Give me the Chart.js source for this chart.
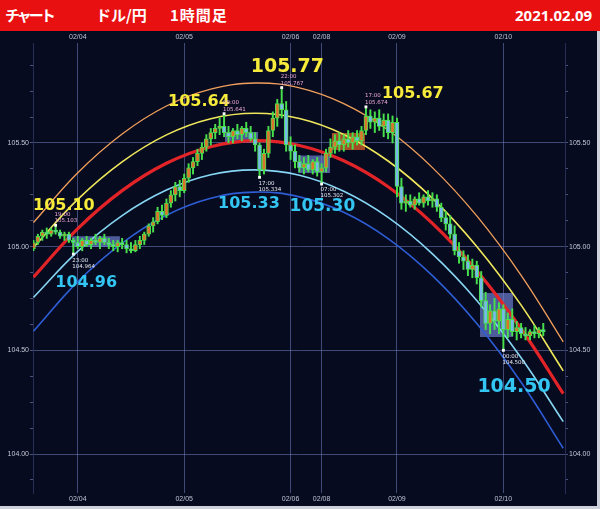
<!DOCTYPE html>
<html><head><meta charset="utf-8">
<script src="https://cdn.jsdelivr.net/npm/chart.js@4.4.1/dist/chart.umd.min.js"></script>
<style>
html,body{margin:0;padding:0;background:#070b1f;width:600px;height:509px;overflow:hidden}
#hdr{position:absolute;left:0;top:0;width:600px;height:31px;background:#e81010;color:#fff;font-family:"Noto Sans CJK JP";font-weight:bold}
#hdr span{position:absolute;top:5px;font-size:15px;line-height:20px;white-space:nowrap}
#wrap{position:absolute;left:0;top:31px;width:600px;height:478px}
#edgeR{position:absolute;right:0;top:31px;width:3px;height:478px;background:#cdd1da}
#edgeB{position:absolute;left:0;bottom:0;width:600px;height:3px;background:#cdd1da}
</style></head>
<body>
<div id="hdr">
  <span style="left:5px;letter-spacing:-3px">チャート</span>
  <span style="left:96px">ドル/円</span>
  <span style="left:170px;letter-spacing:1px">1時間足</span>
  <span style="left:515px;font-family:'Noto Sans'">2021.02.09</span>
</div>
<div id="wrap"><canvas id="c" width="600" height="478"></canvas></div>
<div id="edgeR"></div><div id="edgeB"></div>
<script>
// ---- data ----
const DAY_TICKS = [10, 34, 58, 65, 82, 106];
const DAY_LABELS = ['02/04','02/05','02/06','02/08','02/09','02/10'];
const Y_MAJOR = [104.0, 104.5, 105.0, 105.5];
const Y_LABELS = ['104.00','104.50','105.00','105.50'];

const OPEN = [
104.99,105.02,105.05,105.07,105.06,105.08,105.07,105.05,105.06,105.03,
105.02,105.00,105.03,105.01,105.03,105.02,105.04,105.02,105.01,105.00,
105.02,105.01,104.99,104.98,105.01,105.03,105.06,105.10,105.12,105.17,
105.15,105.21,105.25,105.29,105.27,105.33,105.38,105.41,105.45,105.48,
105.52,105.55,105.57,105.58,105.55,105.53,105.56,105.54,105.57,105.55,
105.52,105.49,105.37,105.45,105.56,105.62,105.69,105.66,105.49,105.46,
105.41,105.38,105.40,105.37,105.41,105.36,105.38,105.45,105.48,105.51,
105.49,105.52,105.50,105.53,105.51,105.56,105.63,105.60,105.62,105.58,
105.61,105.55,105.60,105.29,105.21,105.22,105.20,105.23,105.21,105.24,
105.22,105.23,105.19,105.14,105.11,105.06,104.98,104.95,104.93,104.89,
104.91,104.85,104.74,104.63,104.69,104.64,104.70,104.60,104.65,104.59,
104.61,104.58,104.57,104.59,104.58,104.60];
const HIGH = [
105.03,105.06,105.08,105.09,105.09,105.103,105.08,105.07,105.07,105.04,
105.05,105.04,105.05,105.04,105.06,105.05,105.06,105.04,105.03,105.03,
105.04,105.03,105.02,105.03,105.05,105.07,105.11,105.14,105.19,105.20,
105.23,105.27,105.31,105.32,105.35,105.40,105.43,105.47,105.50,105.54,
105.57,105.59,105.62,105.641,105.58,105.57,105.59,105.58,105.60,105.58,
105.55,105.50,105.47,105.58,105.65,105.71,105.767,105.70,105.53,105.49,
105.44,105.43,105.44,105.42,105.43,105.40,105.47,105.52,105.54,105.55,
105.54,105.56,105.55,105.56,105.58,105.674,105.66,105.65,105.66,105.64,
105.64,105.63,105.62,105.33,105.25,105.25,105.24,105.26,105.25,105.27,
105.26,105.25,105.21,105.17,105.15,105.10,105.02,104.98,104.96,104.94,
104.93,104.88,104.78,104.72,104.75,104.73,104.72,104.68,104.70,104.64,
104.63,104.61,104.60,104.62,104.61,104.63];
const LOW = [
104.98,105.01,105.03,105.04,105.05,105.06,105.04,105.03,105.02,104.964,
104.99,104.98,105.00,104.99,105.01,104.99,105.01,104.99,104.98,104.975,
104.99,104.97,104.97,104.975,104.99,105.01,105.05,105.07,105.11,105.13,
105.14,105.19,105.22,105.24,105.26,105.31,105.35,105.39,105.42,105.46,
105.49,105.52,105.54,105.53,105.50,105.50,105.52,105.51,105.53,105.51,
105.46,105.334,105.35,105.43,105.53,105.58,105.62,105.46,105.42,105.38,
105.36,105.35,105.36,105.35,105.34,105.302,105.36,105.43,105.45,105.46,
105.46,105.48,105.47,105.49,105.49,105.54,105.57,105.55,105.56,105.53,
105.52,105.50,105.24,105.18,105.17,105.19,105.18,105.20,105.19,105.20,
105.19,105.17,105.12,105.08,105.04,104.96,104.92,104.89,104.86,104.85,
104.82,104.71,104.60,104.58,104.60,104.58,104.500,104.56,104.57,104.55,
104.56,104.55,104.55,104.56,104.56,104.57];
const CLOSE = [
105.02,105.05,105.07,105.06,105.08,105.07,105.05,105.06,105.03,105.02,
105.00,105.03,105.01,105.03,105.02,105.04,105.02,105.01,105.00,105.02,
105.01,104.99,104.98,105.01,105.03,105.06,105.10,105.12,105.17,105.15,
105.21,105.25,105.29,105.27,105.33,105.38,105.41,105.45,105.48,105.52,
105.55,105.57,105.58,105.55,105.53,105.56,105.54,105.57,105.55,105.52,
105.49,105.37,105.45,105.56,105.62,105.69,105.66,105.49,105.46,105.41,
105.38,105.40,105.37,105.41,105.36,105.38,105.45,105.48,105.51,105.49,
105.52,105.50,105.53,105.51,105.56,105.63,105.60,105.62,105.58,105.61,
105.55,105.60,105.29,105.21,105.22,105.20,105.23,105.21,105.24,105.22,
105.23,105.19,105.14,105.11,105.06,104.98,104.95,104.93,104.89,104.91,
104.85,104.74,104.63,104.69,104.64,104.70,104.60,104.65,104.59,104.61,
104.58,104.57,104.59,104.58,104.60,104.59];

// channel curves, read at sample bar positions
const CURVE_X      = [0, 10, 20, 30, 40, 50, 60, 70, 80, 90, 100, 110, 119.5];
const CURVE_ORANGE = [105.116,105.356,105.543,105.678,105.759,105.789,105.766,105.690,105.562,105.381,105.148,104.862,104.541];
const CURVE_YELLOW = [104.996,105.228,105.409,105.539,105.617,105.643,105.618,105.541,105.413,105.233,105.001,104.718,104.401];
const CURVE_RED    = [104.853,105.087,105.270,105.402,105.482,105.511,105.488,105.414,105.289,105.112,104.884,104.604,104.291];
const CURVE_CYAN   = [104.755,104.977,105.150,105.273,105.347,105.370,105.344,105.267,105.141,104.965,104.740,104.464,104.156];
const CURVE_BLUE   = [104.592,104.831,105.017,105.151,105.233,105.263,105.240,105.166,105.039,104.860,104.629,104.346,104.028];

// range boxes
const BOX_X0  = [8.7, 43.2, 59.7, 67.3, 100.7];
const BOX_X1  = [19.5, 50.7, 66.9, 74.8, 108.2];
const BOX_TOP = [105.050, 105.553, 105.440, 105.548, 104.776];
const BOX_BOT = [104.998, 105.500, 105.355, 105.466, 104.564];
const BOX_UP  = [false, false, false, true, false];

// marked extremes
const EXT_IDX  = [5, 9, 43, 56, 51, 65, 75, 106];
const EXT_VAL  = [105.103, 104.964, 105.641, 105.767, 105.334, 105.302, 105.674, 104.500];
const EXT_TIME = ['19:00','23:00','09:00','22:00','17:00','07:00','17:00','00:00'];
const EXT_TEXT = ['105.103','104.964','105.641','105.767','105.334','105.302','105.674','104.500'];
const EXT_HIGH = [true, false, true, true, false, false, true, false];
const BIG_TEXT = ['105.10','104.96','105.64','105.77','105.33','105.30','105.67','104.50'];

// ---- styling / layout (not data) ----
const BIG_STYLE = [
  {dx:-22.6, dy:-19, size:16},
  {dx:-18,   dy:29,  size:16},
  {dx:-56,   dy:-12, size:16},
  {dx:-31,   dy:-21, size:19},
  {dx:-41.5, dy:26,  size:16},
  {dx:-32,   dy:23,  size:17},
  {dx:16,    dy:-13, size:16},
  {dx:-26,   dy:37,  size:19}
];
const YELLOW_TXT = '#f6ea3a', CYAN_TXT = '#33c6f2';
const GRID = 'rgba(112,128,190,0.55)';
const GREEN = '#47e04c';

const idx = OPEN.map((_, i) => i);
const isMajor = v => Math.abs(v * 2 - Math.round(v * 2)) < 1e-6;

function curve(vals, color, width, order) {
  return {type:'line', data: CURVE_X.map((x, i) => ({x, y: vals[i]})), borderColor: color,
    borderWidth: width, pointRadius: 0, tension: 0.4, fill: false, order};
}

const datasets = [];
BOX_X0.forEach((x0, k) => {
  datasets.push({type:'line', data:[{x:x0, y:BOX_TOP[k]}, {x:BOX_X1[k], y:BOX_TOP[k]}],
    borderWidth: 0, pointRadius: 0, fill: {value: BOX_BOT[k]},
    backgroundColor: BOX_UP[k] ? 'rgba(204,92,40,0.8)' : 'rgba(112,130,214,0.68)', order: 10});
});
datasets.push(curve(CURVE_ORANGE, '#f2a05c', 1.3, 6));
datasets.push(curve(CURVE_YELLOW, '#f0e85c', 1.6, 6));
datasets.push(curve(CURVE_RED, '#e22428', 3.2, 6));
datasets.push(curve(CURVE_CYAN, '#86d6f4', 1.6, 6));
datasets.push(curve(CURVE_BLUE, '#2e5ed6', 1.6, 6));
datasets.push({type:'bar', data: idx.map(i => ({x:i, y:[LOW[i], HIGH[i]]})), backgroundColor: GREEN,
  barThickness: 1.3, grouped: false, order: 3});
datasets.push({type:'bar', data: idx.map(i => ({x:i, y:[OPEN[i], CLOSE[i]]})),
  backgroundColor: idx.map(i => CLOSE[i] >= OPEN[i] ? '#dc742e' : '#78b8ea'),
  borderColor: GREEN, borderWidth: 1, borderSkipped: false, barThickness: 4, grouped: false, order: 2});
datasets.push({type:'scatter', data: EXT_IDX.map((x, k) => ({x, y: EXT_VAL[k]})), pointStyle:'rect',
  pointRadius: 2, backgroundColor:'#ffffff', borderWidth: 0, order: 1});

const tickFont = {family:'Liberation Sans', size:7};
const xCommon = {
  type:'linear', min:-0.1, max:119.9, offset:false,
  afterBuildTicks: s => { s.ticks = DAY_TICKS.map(v => ({value:v})); },
  ticks: {callback: v => { const k = DAY_TICKS.indexOf(v); return k >= 0 ? DAY_LABELS[k] : ''; },
    color:'#bfc3d3', font: tickFont, padding: 2, maxRotation: 0, autoSkip: false},
  border: {display: false}
};
const yCommon = {
  type:'linear', min:103.812, max:105.982,
  afterBuildTicks: s => { const t = []; for (let k = 0; k <= 16; k++) t.push({value: 103.875 + k * 0.125}); s.ticks = t; },
  ticks: {callback: v => { const k = Y_MAJOR.findIndex(m => Math.abs(m - v) < 1e-6); return k >= 0 ? Y_LABELS[k] : ''; },
    color:'#c3c7d6', font: tickFont, padding: 1, autoSkip: false},
  border: {display: true, color:'rgba(70,82,140,0.5)'}
};

const annot = {
  id:'annot',
  afterDatasetsDraw(chart) {
    const {ctx} = chart, x = chart.scales.x, y = chart.scales.y;
    ctx.save();
    ctx.textAlign = 'left'; ctx.textBaseline = 'middle';
    EXT_IDX.forEach((ix, k) => {
      const px = x.getPixelForValue(ix), py = y.getPixelForValue(EXT_VAL[k]);
      const b = BIG_STYLE[k];
      ctx.font = 'bold ' + b.size + 'px "DejaVu Sans"';
      ctx.fillStyle = EXT_HIGH[k] ? YELLOW_TXT : CYAN_TXT;
      ctx.fillText(BIG_TEXT[k], px + b.dx, py + b.dy);
    });
    EXT_IDX.forEach((ix, k) => {
      const px = x.getPixelForValue(ix), py = y.getPixelForValue(EXT_VAL[k]);
      const hi = EXT_HIGH[k];
      ctx.font = '5.5px "DejaVu Sans"';
      ctx.fillStyle = hi ? '#eeaad6' : '#e6e8f0';
      ctx.fillText(EXT_TIME[k], px - 1, py + (hi ? -11 : 6));
      ctx.fillText(EXT_TEXT[k], px - 1, py + (hi ? -4.5 : 12));
    });
    ctx.restore();
  }
};

new Chart(document.getElementById('c'), {
  type:'bar',
  data:{datasets},
  options:{
    responsive:false, animation:false, devicePixelRatio:1,
    layout:{padding:0},
    plugins:{legend:{display:false}, tooltip:{enabled:false}},
    scales:{
      x: Object.assign({}, xCommon, {position:'bottom',
        grid:{color:GRID, lineWidth:1, drawTicks:false, offset:false}, afterFit: s => { s.height = 16; }}),
      xTop: Object.assign({}, xCommon, {position:'top',
        grid:{drawOnChartArea:false, drawTicks:false, offset:false}, afterFit: s => { s.height = 12; }}),
      y: Object.assign({}, yCommon, {position:'left',
        grid:{color: c => isMajor(c.tick.value) ? GRID : 'rgba(0,0,0,0)', tickColor:'rgba(120,135,190,0.6)', tickLength:3},
        afterFit: s => { s.width = 33; }}),
      yR: Object.assign({}, yCommon, {position:'right',
        grid:{drawOnChartArea:false, tickColor:'rgba(120,135,190,0.6)', tickLength:3},
        afterFit: s => { s.width = 35; }})
    }
  },
  plugins:[annot]
});
</script>
</body></html>
